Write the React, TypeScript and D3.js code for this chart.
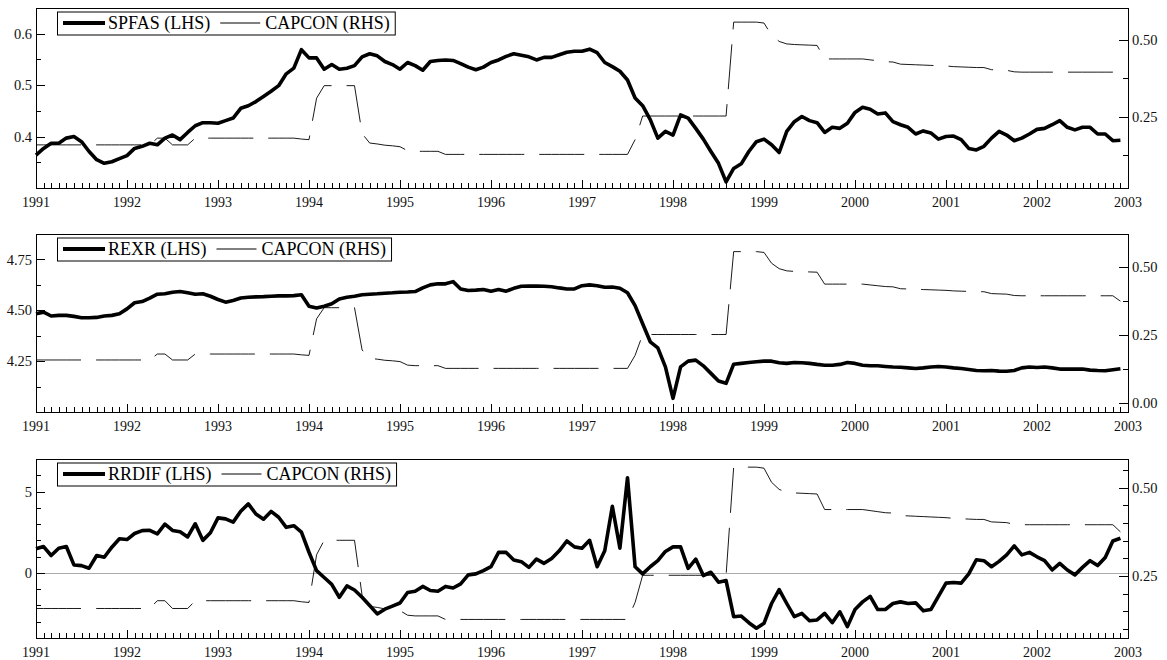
import { useEffect, useRef } from "react";
import * as d3 from "d3";

// monthly data, 1991:1 - 2002:12
const START_YEAR = 1991;
const END_YEAR = 2003;
const years = [1991, 1992, 1993, 1994, 1995, 1996, 1997, 1998, 1999, 2000, 2001, 2002, 2003];

// capital controls index (RHS in every panel)
const capcon = [
  0.158, 0.158, 0.158, 0.158, 0.158, 0.158, 0.158, 0.158, 0.158, 0.158, 0.158, 0.158,
  0.158, 0.158, 0.158, 0.158, 0.180, 0.180, 0.158, 0.158, 0.158, 0.180, 0.180, 0.180,
  0.180, 0.180, 0.180, 0.180, 0.180, 0.180, 0.180, 0.180, 0.180, 0.180, 0.180, 0.177,
  0.175, 0.310, 0.351, 0.351, 0.351, 0.351, 0.351, 0.195, 0.164, 0.161, 0.157, 0.155,
  0.152, 0.139, 0.137, 0.137, 0.137, 0.137, 0.127, 0.127, 0.127, 0.127, 0.127, 0.127,
  0.127, 0.127, 0.127, 0.127, 0.127, 0.127, 0.127, 0.127, 0.127, 0.127, 0.127, 0.127,
  0.127, 0.127, 0.127, 0.127, 0.127, 0.127, 0.127, 0.175, 0.252, 0.252, 0.252, 0.252,
  0.252, 0.252, 0.252, 0.252, 0.252, 0.252, 0.252, 0.252, 0.558, 0.558, 0.558, 0.558,
  0.555, 0.515, 0.495, 0.487, 0.485, 0.484, 0.483, 0.482, 0.438, 0.438, 0.438, 0.438,
  0.438, 0.438, 0.435, 0.432, 0.429, 0.428, 0.421, 0.420, 0.419, 0.418, 0.417, 0.416,
  0.415, 0.413, 0.412, 0.411, 0.410, 0.410, 0.403, 0.402, 0.401, 0.396, 0.395, 0.395,
  0.395, 0.395, 0.395, 0.395, 0.395, 0.395, 0.395, 0.395, 0.395, 0.395, 0.395, 0.375,
];

const spfas = [
  0.364, 0.377, 0.387, 0.387, 0.397, 0.400, 0.390, 0.371, 0.355, 0.348,
  0.351, 0.357, 0.363, 0.377, 0.381, 0.387, 0.384, 0.397, 0.403, 0.394,
  0.408, 0.421, 0.427, 0.427, 0.426, 0.431, 0.436, 0.455, 0.460, 0.468,
  0.478, 0.488, 0.499, 0.522, 0.533, 0.569, 0.553, 0.553, 0.531, 0.540,
  0.531, 0.533, 0.538, 0.555, 0.561, 0.557, 0.546, 0.540, 0.531, 0.544,
  0.538, 0.529, 0.546, 0.548, 0.549, 0.548, 0.542, 0.535, 0.530, 0.535,
  0.544, 0.549, 0.556, 0.561, 0.558, 0.555, 0.549, 0.554, 0.554, 0.559,
  0.564, 0.566, 0.566, 0.570, 0.563, 0.544, 0.536, 0.527, 0.510, 0.475,
  0.460, 0.433, 0.397, 0.410, 0.403, 0.442, 0.436, 0.416, 0.395, 0.371,
  0.348, 0.312, 0.338, 0.347, 0.371, 0.390, 0.395, 0.384, 0.369, 0.410,
  0.429, 0.439, 0.431, 0.427, 0.408, 0.418, 0.416, 0.426, 0.447, 0.457,
  0.453, 0.444, 0.446, 0.429, 0.423, 0.418, 0.405, 0.411, 0.407, 0.395,
  0.400, 0.401, 0.394, 0.377, 0.374, 0.381, 0.397, 0.410, 0.403, 0.392,
  0.397, 0.405, 0.414, 0.416, 0.423, 0.431, 0.418, 0.413, 0.418, 0.418,
  0.405, 0.405, 0.392, 0.393,
];

const rexr = [
  4.483, 4.491, 4.472, 4.475, 4.475, 4.470, 4.463, 4.463, 4.465, 4.472,
  4.475, 4.483, 4.507, 4.537, 4.543, 4.560, 4.579, 4.581, 4.589, 4.592,
  4.586, 4.579, 4.581, 4.569, 4.553, 4.540, 4.548, 4.560, 4.564, 4.566,
  4.567, 4.569, 4.571, 4.571, 4.572, 4.576, 4.520, 4.511, 4.520, 4.532,
  4.556, 4.564, 4.569, 4.576, 4.579, 4.581, 4.584, 4.586, 4.589, 4.590,
  4.592, 4.610, 4.625, 4.630, 4.630, 4.641, 4.605, 4.597, 4.599, 4.602,
  4.594, 4.602, 4.594, 4.608, 4.618, 4.619, 4.619, 4.618, 4.616, 4.610,
  4.605, 4.605, 4.621, 4.625, 4.621, 4.613, 4.614, 4.608, 4.586, 4.523,
  4.434, 4.345, 4.315, 4.222, 4.067, 4.222, 4.250, 4.255, 4.227, 4.190,
  4.152, 4.141, 4.235, 4.239, 4.243, 4.247, 4.250, 4.250, 4.242, 4.239,
  4.243, 4.242, 4.239, 4.234, 4.230, 4.230, 4.234, 4.243, 4.239, 4.230,
  4.227, 4.227, 4.224, 4.221, 4.220, 4.217, 4.214, 4.217, 4.221, 4.224,
  4.221, 4.217, 4.214, 4.209, 4.204, 4.203, 4.204, 4.201, 4.200, 4.204,
  4.217, 4.221, 4.219, 4.221, 4.217, 4.211, 4.211, 4.211, 4.211, 4.206,
  4.204, 4.203, 4.208, 4.213,
];

const rrdif = [
  1.48, 1.62, 1.07, 1.52, 1.62, 0.49, 0.45, 0.29, 1.07, 0.96,
  1.58, 2.10, 2.05, 2.42, 2.60, 2.62, 2.40, 3.00, 2.61, 2.53,
  2.21, 3.02, 2.00, 2.47, 3.38, 3.32, 3.12, 3.79, 4.24, 3.62,
  3.30, 3.78, 3.42, 2.80, 2.90, 2.50, 1.27, 0.14, -0.28, -0.70,
  -1.50, -0.80, -1.05, -1.50, -2.00, -2.52, -2.23, -2.04, -1.85, -1.20,
  -1.13, -0.83, -1.08, -1.13, -0.83, -0.93, -0.67, -0.12, -0.06, 0.14,
  0.38, 1.26, 1.26, 0.79, 0.69, 0.34, 0.85, 0.59, 0.89, 1.36,
  1.96, 1.60, 1.52, 2.00, 0.38, 1.36, 4.09, 1.52, 5.85, 0.38,
  -0.06, 0.38, 0.75, 1.32, 1.60, 1.60, 0.28, 0.85, -0.16, 0.04,
  -0.57, -0.47, -2.69, -2.65, -3.06, -3.40, -3.10, -1.88, -1.03, -1.88,
  -2.69, -2.49, -2.94, -2.89, -2.49, -3.06, -2.39, -3.30, -2.25, -1.78,
  -1.44, -2.25, -2.25, -1.88, -1.78, -1.88, -1.84, -2.33, -2.25, -1.44,
  -0.63, -0.59, -0.63, -0.06, 0.81, 0.75, 0.38, 0.71, 1.11, 1.66,
  1.11, 1.26, 0.99, 0.75, 0.18, 0.59, 0.18, -0.12, 0.34, 0.75,
  0.45, 0.95, 1.96, 2.13,
];

// axis ticks per panel
const spfasTicks = [0.4, 0.5, 0.6];
const spfasMinor = [0.35, 0.45, 0.55];
const rexrTicks = [4.25, 4.5, 4.75];
const rexrMinor = [4.125, 4.375, 4.625];
const rrdifTicks = [0, 5];
const rrdifMinor = [-3, -2, -1, 1, 2, 3, 4, 6];
const capTicks1 = [0.25, 0.5];
const capMinor1 = [0.125, 0.375];
const capTicks2 = [0, 0.25, 0.5];
const capMinor2 = [0.125, 0.375];
const capTicks3 = [0.25, 0.5];
const capMinor3 = [0.1, 0.15, 0.2, 0.3, 0.35, 0.4, 0.45, 0.55];

const panels = [
  {
    label: "SPFAS (LHS)", values: spfas, top: 8, bottom: 188,
    left: [0.3, 0.65], leftTicks: spfasTicks, leftMinor: spfasMinor, leftFmt: ".1f",
    right: [0.0175, 0.604], rightTicks: capTicks1, rightMinor: capMinor1, zero: false,
  },
  {
    label: "REXR (LHS)", values: rexr, top: 234, bottom: 412,
    left: [4.0, 4.875], leftTicks: rexrTicks, leftMinor: rexrMinor, leftFmt: ".2f",
    right: [-0.034, 0.623], rightTicks: capTicks2, rightMinor: capMinor2, zero: false,
  },
  {
    label: "RRDIF (LHS)", values: rrdif, top: 459, bottom: 638,
    left: [-4, 7], leftTicks: rrdifTicks, leftMinor: rrdifMinor, leftFmt: "d",
    right: [0.0745, 0.581], rightTicks: capTicks3, rightMinor: capMinor3, zero: true,
  },
];

const W = 1167;
const H = 660;
const X0 = 36;
const X1 = 1128;
const FONT = "Liberation Serif, DejaVu Serif, serif";

export default function App() {
  const ref = useRef<SVGSVGElement>(null);

  useEffect(() => {
    const svg = d3.select(ref.current);
    svg.selectAll("*").remove();

    const x = d3.scaleLinear().domain([START_YEAR, END_YEAR]).range([X0, X1]);
    const t = (i: number) => START_YEAR + i / 12;
    const fmtR = d3.format(".2f");

    panels.forEach((p) => {
      const yL = d3.scaleLinear().domain(p.left).range([p.bottom, p.top]);
      const yR = d3.scaleLinear().domain(p.right).range([p.bottom, p.top]);
      const g = svg.append("g");

      if (p.zero) {
        g.append("line")
          .attr("x1", X0).attr("x2", X1)
          .attr("y1", Math.round(yL(0)) + 0.5).attr("y2", Math.round(yL(0)) + 0.5)
          .attr("stroke", "#aaa").attr("stroke-width", 1);
      }

      g.append("path")
        .datum(capcon)
        .attr("d", d3.line<number>().x((_, i) => x(t(i))).y((d) => yR(d)))
        .attr("fill", "none")
        .attr("stroke", "#000")
        .attr("stroke-width", 0.9)
        .attr("stroke-dasharray", "45,15");

      g.append("path")
        .datum(p.values)
        .attr("d", d3.line<number>().x((_, i) => x(t(i))).y((d) => yL(d)))
        .attr("fill", "none")
        .attr("stroke", "#000")
        .attr("stroke-width", 3.6)
        .attr("stroke-linejoin", "round");

      // frame
      g.append("rect")
        .attr("x", X0 + 0.5).attr("y", p.top + 0.5)
        .attr("width", X1 - X0).attr("height", p.bottom - p.top)
        .attr("fill", "none").attr("stroke", "#000").attr("stroke-width", 1);

      // month / year ticks
      const ticks = g.append("g").attr("stroke", "#000").attr("stroke-width", 1);
      d3.range(1, 144).forEach((i) => {
        const xi = Math.round(x(t(i))) + 0.5;
        const len = i % 12 === 0 ? 8 : 5;
        ticks.append("line")
          .attr("x1", xi).attr("x2", xi)
          .attr("y1", p.bottom).attr("y2", p.bottom - len);
      });

      g.selectAll(".yr")
        .data(years)
        .join("text")
        .attr("x", (d) => x(d))
        .attr("y", p.bottom + 18.5)
        .attr("text-anchor", "middle")
        .style("font-family", FONT)
        .attr("font-size", 14)
        .attr("fill", "#111")
        .text((d) => String(d));

      // left axis
      const fmtL = d3.format(p.leftFmt);
      p.leftTicks.forEach((v) => {
        const yy = Math.round(yL(v)) + 0.5;
        ticks.append("line").attr("x1", X0).attr("x2", X0 + 9).attr("y1", yy).attr("y2", yy);
        g.append("text")
          .attr("x", 32).attr("y", yL(v)).attr("dy", "0.35em")
          .attr("text-anchor", "end")
          .style("font-family", FONT).attr("font-size", 14.5).attr("fill", "#111")
          .text(fmtL(v));
      });
      p.leftMinor.forEach((v) => {
        const yy = Math.round(yL(v)) + 0.5;
        ticks.append("line").attr("x1", X0).attr("x2", X0 + 5).attr("y1", yy).attr("y2", yy);
      });

      // right axis
      p.rightTicks.forEach((v) => {
        const yy = Math.round(yR(v)) + 0.5;
        ticks.append("line").attr("x1", X1 - 9).attr("x2", X1).attr("y1", yy).attr("y2", yy);
        g.append("text")
          .attr("x", X1 + 4).attr("y", yR(v)).attr("dy", "0.35em")
          .style("font-family", FONT).attr("font-size", 14.5).attr("fill", "#111")
          .text(fmtR(v));
      });
      p.rightMinor.forEach((v) => {
        const yy = Math.round(yR(v)) + 0.5;
        ticks.append("line").attr("x1", X1 - 5).attr("x2", X1).attr("y1", yy).attr("y2", yy);
      });

      // legend
      const lg = g.append("g");
      const boxX = 57;
      const boxY = p.top + 3.5;
      const boxH = 23;
      const cy = boxY + boxH / 2;
      const box = lg.append("rect")
        .attr("x", boxX + 0.5).attr("y", boxY + 0.5).attr("height", boxH)
        .attr("fill", "#fff").attr("stroke", "#000").attr("stroke-width", 1);
      lg.append("line")
        .attr("x1", 63).attr("x2", 105).attr("y1", cy).attr("y2", cy)
        .attr("stroke", "#000").attr("stroke-width", 4);
      const t1 = lg.append("text")
        .attr("x", 108).attr("y", cy + 6)
        .style("font-family", FONT).attr("font-size", 18).attr("fill", "#000")
        .text(p.label);
      const w1 = (t1.node() as SVGTextElement).getComputedTextLength();
      const lx = 108 + w1 + 10;
      lg.append("line")
        .attr("x1", lx).attr("x2", lx + 40).attr("y1", cy).attr("y2", cy)
        .attr("stroke", "#000").attr("stroke-width", 1);
      const t2 = lg.append("text")
        .attr("x", lx + 5 + 40).attr("y", cy + 6)
        .style("font-family", FONT).attr("font-size", 18).attr("fill", "#000")
        .text("CAPCON (RHS)");
      const w2 = (t2.node() as SVGTextElement).getComputedTextLength();
      box.attr("width", lx + 45 + w2 + 5 - boxX);
    });
  }, []);

  return (
    <svg
      ref={ref}
      width={W}
      height={H}
      style={{ position: "absolute", left: 0, top: 0, background: "#fff" }}
    />
  );
}
